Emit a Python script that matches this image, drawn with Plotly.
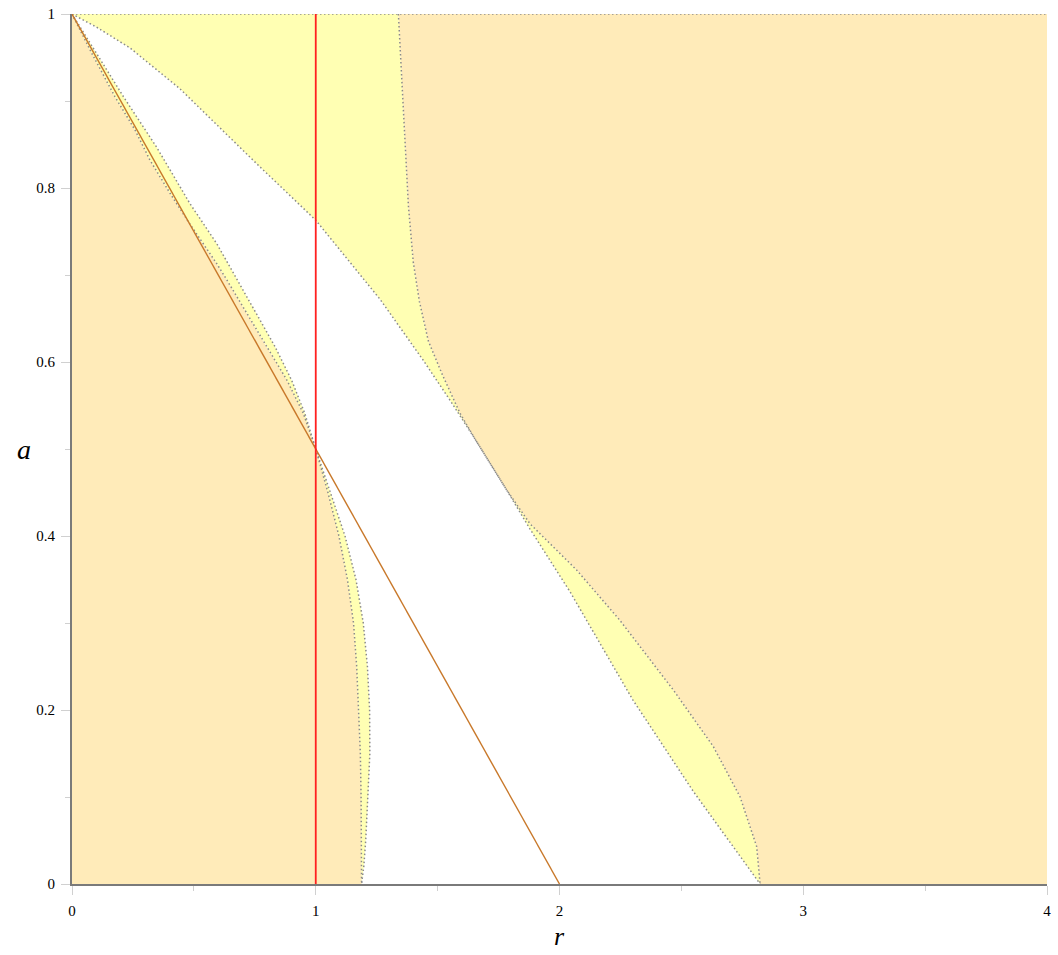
import plotly.graph_objects as go

# boundary curves, (r, a) pairs
# left strip: orange / yellow edge
l1_r = [0.0, 0.081, 0.176, 0.258, 0.32, 0.402, 0.478, 0.594, 0.636, 0.798, 0.882, 0.949, 1.0,
        1.05, 1.095, 1.13, 1.155, 1.168, 1.177, 1.183, 1.186, 1.188, 1.188]
l1_a = [1.0, 0.955, 0.905, 0.867, 0.832, 0.794, 0.761, 0.713, 0.694, 0.6176, 0.579, 0.541, 0.5,
        0.45, 0.4, 0.35, 0.3, 0.25, 0.2, 0.15, 0.1, 0.05, 0.0]

# left strip: yellow / white edge
l2_r = [0.0, 0.108, 0.211, 0.347, 0.484, 0.594, 0.68, 0.833, 0.901, 0.955, 1.0,
        1.06, 1.12, 1.165, 1.195, 1.212, 1.221, 1.222, 1.215, 1.205, 1.197, 1.188]
l2_a = [1.0, 0.951, 0.905, 0.847, 0.782, 0.736, 0.694, 0.6176, 0.579, 0.541, 0.5,
        0.45, 0.4, 0.35, 0.3, 0.25, 0.2, 0.15, 0.1, 0.05, 0.02, 0.0]

# upper / right: white / yellow edge
u_r = [0.0, 0.1, 0.238, 0.443, 0.75, 1.0, 1.264, 1.441, 1.551, 1.65, 1.783,
       1.879, 2.043, 2.3, 2.55, 2.823]
u_a = [1.0, 0.985, 0.961, 0.914, 0.83, 0.763, 0.672, 0.602, 0.556, 0.513, 0.453,
       0.408, 0.336, 0.212, 0.106, 0.0]

# upper / right: yellow / orange edge
w_r = [1.339, 1.359, 1.380, 1.400, 1.425, 1.462, 1.52, 1.592, 1.65, 1.783,
       1.879, 2.07, 2.248, 2.467, 2.631, 2.741, 2.809, 2.823]
w_a = [1.0, 0.897, 0.780, 0.715, 0.670, 0.624, 0.585, 0.541, 0.513, 0.453,
       0.414, 0.361, 0.303, 0.223, 0.158, 0.100, 0.043, 0.0]

r_min, r_max = 0, 4
a_min, a_max = 0, 1

orange = '#FFEBB9'
yellow = '#FFFFB3'
dotc = '#8a8a8a'
serif = 'Liberation Serif, Times New Roman, serif'

fig = go.Figure()


def poly(xs, ys, color):
    fig.add_trace(go.Scatter(x=xs, y=ys, mode='lines', fill='toself', fillcolor=color,
                             line=dict(width=0), hoverinfo='skip', showlegend=False))


def dotted(xs, ys):
    fig.add_trace(go.Scatter(x=xs, y=ys, mode='lines',
                             line=dict(color=dotc, width=1.5, dash='1.5px,2.5px'),
                             hoverinfo='skip', showlegend=False))


# filled regions
poly([r_min] + l1_r, [a_min] + l1_a, orange)
poly(l1_r + l2_r[::-1], l1_a + l2_a[::-1], yellow)
poly(u_r + w_r[::-1] + [u_r[0]], u_a + w_a[::-1] + [u_a[0]], yellow)
poly(w_r + [r_max, r_max, w_r[0]], w_a + [a_min, a_max, w_a[0]], orange)

# dotted boundaries
dotted(l1_r, l1_a)
dotted(l2_r, l2_a)
dotted(u_r, u_a)
dotted(w_r, w_a)
dotted([r_min, r_max], [a_max, a_max])

# a = 1 - r/2 and r = 1
fig.add_trace(go.Scatter(x=[0, 2], y=[1, 0], mode='lines',
                         line=dict(color='#C8782A', width=1.4), showlegend=False))
fig.add_trace(go.Scatter(x=[1, 1], y=[0, 1], mode='lines',
                         line=dict(color='#FF2020', width=1.8), showlegend=False))

axis_common = dict(showgrid=False, zeroline=False, showline=True, linecolor='#7a7a7a',
                   linewidth=2, ticks='outside', ticklen=9, tickcolor='#d0d0d0',
                   tickwidth=1, tickfont=dict(family=serif, size=15, color='black'),
                   layer='above traces', automargin=False)

fig.update_xaxes(range=[r_min, r_max], tickvals=[0, 1, 2, 3, 4],
                 ticktext=['0', '1', '2', '3', '4'], ticklabelstandoff=3,
                 minor=dict(dtick=0.5, ticklen=5, tickcolor='#d0d0d0', ticks='outside'),
                 **axis_common)
fig.update_yaxes(range=[a_min, a_max], tickvals=[0, 0.2, 0.4, 0.6, 0.8, 1],
                 ticktext=['0', '0.2', '0.4', '0.6', '0.8', '1'], ticklabelstandoff=3,
                 minor=dict(dtick=0.1, ticklen=5, tickcolor='#d0d0d0', ticks='outside'),
                 **axis_common)

fig.add_annotation(text='<i>r</i>', x=0.5, y=-0.079, xref='paper', yref='paper',
                   yanchor='bottom', showarrow=False,
                   font=dict(family=serif, size=26, color='black'))
fig.add_annotation(text='<i>a</i>', x=-0.058, y=0.5, xref='paper', yref='paper',
                   showarrow=False, font=dict(family=serif, size=28, color='black'))

fig.update_layout(width=1058, height=955, margin=dict(l=72, r=11, t=14, b=71),
                  plot_bgcolor='white', paper_bgcolor='white')

# drop the default body margin so the figure fills the window exactly
fig.write_html("out.html", config={'displayModeBar': False},
               post_script="document.body.style.margin='0';")
